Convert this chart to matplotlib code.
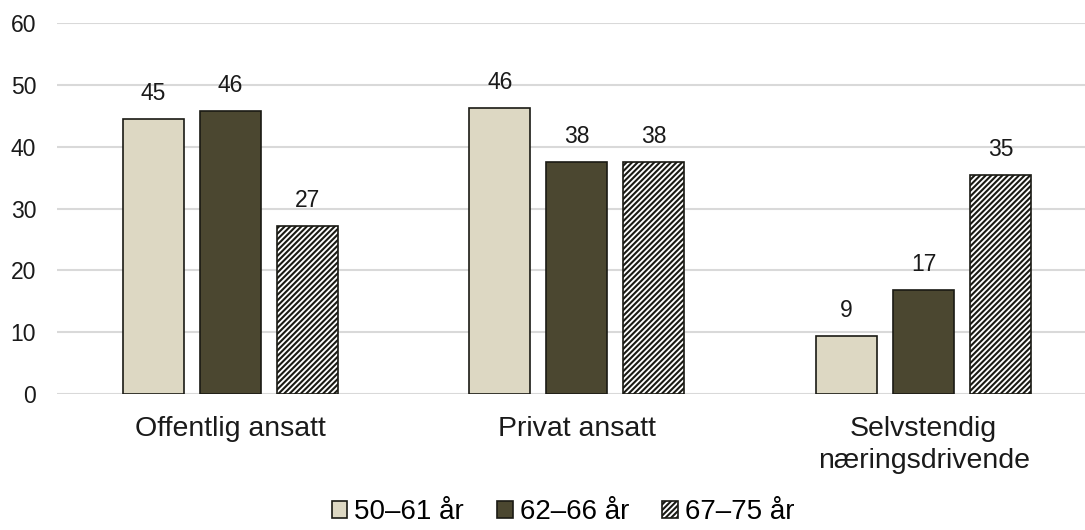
import matplotlib
matplotlib.use("Agg")
import matplotlib.pyplot as plt
import numpy as np

plt.rcParams['font.family'] = ['Liberation Sans', 'DejaVu Sans']
plt.rcParams['hatch.linewidth'] = 1.5

categories = ["Offentlig ansatt", "Privat ansatt", "Selvstendig\nnæringsdrivende"]
series = ["50–61 år", "62–66 år", "67–75 år"]
values = [
    [44.5, 46.2, 9.3],
    [45.7, 37.5, 16.8],
    [27.1, 37.5, 35.4],
]
labels = [
    [45, 46, 9],
    [46, 38, 17],
    [27, 38, 35],
]
yticks = [0, 10, 20, 30, 40, 50, 60]

fills = ['#DDD8C3', '#4B4730', 'white']
hatches = [None, None, '//////']

fig = plt.figure(figsize=(10.85, 5.3), dpi=100)
ax = fig.add_axes([0.0525, 0.2566, 0.9585, 0.70])

x = np.arange(len(categories))
width = 0.176
step = 0.222

for i, name in enumerate(series):
    pos = x + (i - 1) * step
    bars = ax.bar(pos, values[i], width, color=fills[i], edgecolor='#1a1a14',
                  linewidth=1.2, hatch=hatches[i], label=name, zorder=3)
    for b, lab in zip(bars, labels[i]):
        ax.text(b.get_x() + b.get_width() / 2, b.get_height() + 2.3, str(lab),
                ha='center', va='bottom', fontsize=16.5, color='#1a1a1a')

ax.set_xlim(-0.5, 2.5)
ax.set_ylim(0, 60)
ax.set_yticks(yticks)
ax.yaxis.grid(True, color='#D9D9D9', linewidth=1.5, zorder=0)
ax.set_axisbelow(True)
for s in ax.spines.values():
    s.set_visible(False)
ax.tick_params(axis='both', length=0, labelsize=16.5, colors='#1a1a1a')
ax.tick_params(axis='y', pad=15)
ax.tick_params(axis='x', pad=16, labelsize=20.5)
ax.set_xticks(x)
ax.set_xticklabels(categories, linespacing=1.3)

fig.legend(loc='center', bbox_to_anchor=(0.519, 0.034), ncol=3, frameon=False,
           fontsize=20, handlelength=0.55, handleheight=0.55, handletextpad=0.25,
           columnspacing=1.2)

fig.savefig('out.png', dpi=100)
